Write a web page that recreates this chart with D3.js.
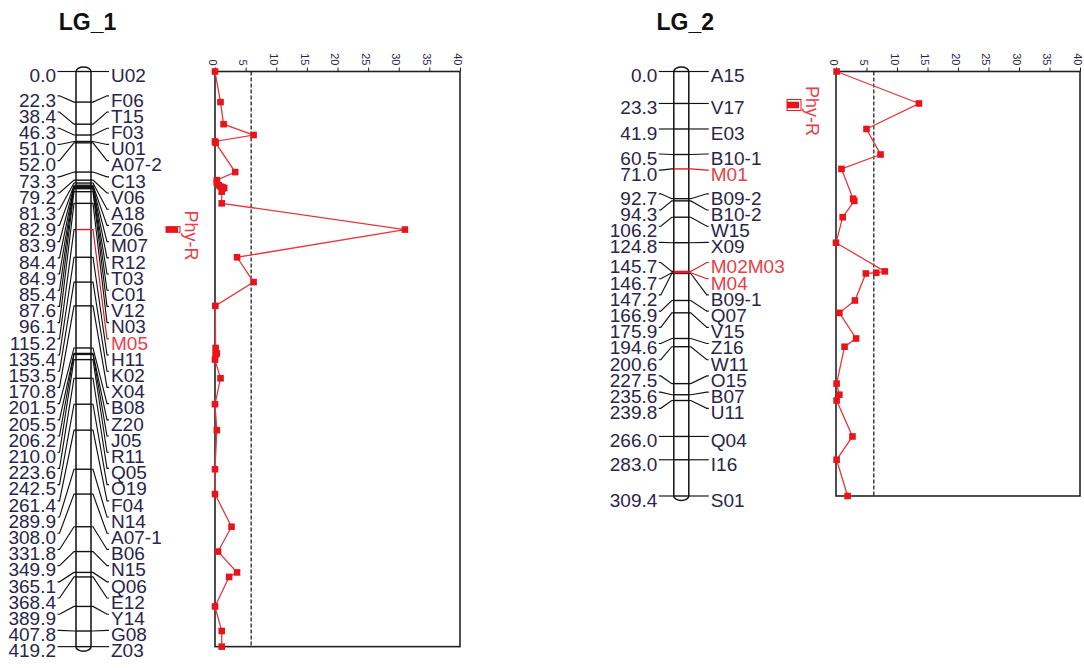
<!DOCTYPE html>
<html>
<head>
<meta charset="utf-8">
<script src="https://cdn.jsdelivr.net/npm/d3@7"></script>
<style>
  html, body { margin: 0; padding: 0; background: #fff; }
  svg { display: block; font-family: "Liberation Sans", Arial, sans-serif; }
</style>
</head>
<body>
<svg id="chart" width="1084" height="668"></svg>
<script>
// ---- Linkage group LG_1: markers, map positions (cM), LOD at each marker ----
const lg1Markers = ["U02","F06","T15","F03","U01","A07-2","C13","V06","A18","Z06","M07","R12",
  "T03","C01","V12","N03","M05","H11","K02","X04","B08","Z20","J05","R11","Q05","O19","F04",
  "N14","A07-1","B06","N15","Q06","E12","Y14","G08","Z03"];
const lg1Positions = [0.0,22.3,38.4,46.3,51.0,52.0,73.3,79.2,81.3,82.9,83.9,84.4,84.9,85.4,87.6,
  96.1,115.2,135.4,153.5,170.8,201.5,205.5,206.2,210.0,223.6,242.5,261.4,289.9,308.0,331.8,
  349.9,365.1,368.4,389.9,407.8,419.2];
const lg1Lod = [0.0,0.9,1.4,6.3,0.0,0.1,3.3,0.3,0.3,0.6,0.9,1.2,1.5,1.2,1.1,1.1,31.0,3.6,6.3,
  0.05,0.1,0.3,0.1,0.0,0.9,0.0,0.3,0.0,0.0,2.7,0.5,3.6,2.3,0.0,1.1,1.1];
const lg1Threshold = 5.9;
const lg1QtlInner = [113.1, 117.2];   // 1-LOD support interval (cM)
const lg1QtlOuter = [113.1, 117.2];   // 2-LOD support interval (cM)

// ---- Linkage group LG_2 ----
const lg2Markers = ["A15","V17","E03","B10-1","M01","B09-2","B10-2","W15","X09","M02M03","M04",
  "B09-1","Q07","V15","Z16","W11","O15","B07","U11","Q04","I16","S01"];
const lg2Positions = [0.0,23.3,41.9,60.5,71.0,92.7,94.3,106.2,124.8,145.7,146.7,147.2,166.9,
  175.9,194.6,200.6,227.5,235.6,239.8,266.0,283.0,309.4];
const lg2Lod = [0.1,13.6,5.0,7.3,0.9,2.8,3.0,1.1,0.0,8.0,6.6,4.9,3.1,0.55,3.3,1.4,0.1,0.55,0.1,
  2.7,0.1,1.9];
const lg2Threshold = 6.2;
const lg2QtlInner = [22.0, 26.8];
const lg2QtlOuter = [20.4, 28.4];

// ---- shared ----
const lodTicks = [0, 5, 10, 15, 20, 25, 30, 35, 40];
const lodMax = 40;
const highlighted = ["M05", "M01", "M02M03", "M04"];
const qtlName = "Phy-R";

// layout
const Y0 = 71.5, PX_PER_CM = 1.372, LABEL_GAP = 16.2, FONT = 19;
const TEXT = "#29254a", RED = "#e8141c", LABEL_RED = "#e8404a";

const groups = [
  { title: "LG_1", markers: lg1Markers, positions: lg1Positions, lod: lg1Lod,
    threshold: lg1Threshold, qtlInner: lg1QtlInner, qtlOuter: lg1QtlOuter,
    barX: 83.5, padL: 20, padR: 20, plotLeft: 215, plotRight: 460 },
  { title: "LG_2", markers: lg2Markers, positions: lg2Positions, lod: lg2Lod,
    threshold: lg2Threshold, qtlInner: lg2QtlInner, qtlOuter: lg2QtlOuter,
    barX: 681.3, padL: 16.5, padR: 22, plotLeft: 836, plotRight: 1080 }
];

// Spread label anchors so they keep a minimum gap: push down, pull back up from the
// lower end, then let free-floating runs drift toward their markers.
function spreadLabels(desired, gap, lo, hi, pull) {
  const n = desired.length, p = desired.slice();
  p[0] = Math.max(p[0], lo);
  for (let i = 1; i < n; i++) p[i] = Math.max(p[i], p[i - 1] + gap);
  p[n - 1] = Math.min(p[n - 1], hi);
  for (let i = n - 2; i >= 0; i--) p[i] = Math.min(p[i], p[i + 1] - gap);
  let a = 0;
  while (a < n) {
    let b = a;
    while (b + 1 < n && p[b + 1] - p[b] < gap + 0.01) b++;
    if (b > a && p[b] < hi - 0.5) {
      let mean = 0;
      for (let i = a; i <= b; i++) mean += p[i] - desired[i];
      mean /= (b - a + 1);
      let shift = pull * mean;
      const minTop = a > 0 ? p[a - 1] + gap : lo;
      shift = Math.min(shift, p[a] - minTop);
      if (shift > 0) for (let i = a; i <= b; i++) p[i] -= shift;
    }
    a = b + 1;
  }
  return p;
}

const svg = d3.select("#chart");

groups.forEach(g => {
  const len = g.positions[g.positions.length - 1];
  const y = d3.scaleLinear().domain([0, len]).range([Y0, Y0 + len * PX_PER_CM]);
  const x = d3.scaleLinear().domain([0, lodMax]).range([g.plotLeft, g.plotRight]);
  const barL = g.barX - 7.5, barR = g.barX + 7.5;
  const markerY = g.positions.map(d => y(d));
  const labelY = spreadLabels(markerY, LABEL_GAP, y(0), y(len), 0.6);
  const isRed = g.markers.map(m => highlighted.includes(m));
  const leftEnd = barL - g.padL + 1.5, rightStart = barR + g.padR - 2;

  const root = svg.append("g");

  // title
  root.append("text")
    .attr("x", g.barX + 4).attr("y", 30)
    .attr("text-anchor", "middle")
    .attr("font-size", 23).attr("font-weight", "bold").attr("fill", "#111")
    .text(g.title);

  // chromosome bar with rounded ends
  const y0 = y(0), yL = y(len);
  root.append("path")
    .attr("d", `M${barL},${y0} A7.5,4.5 0 0 1 ${barR},${y0} L${barR},${yL} A7.5,4.5 0 0 1 ${barL},${yL} Z`)
    .attr("fill", "#fff").attr("stroke", "#111").attr("stroke-width", 1.5);

  const line = d3.line();
  const order = d3.range(g.markers.length).sort((a, b) => isRed[a] - isRed[b]);

  order.forEach(i => {
    const my = markerY[i], ly = labelY[i];
    const col = isRed[i] ? RED : "#111";
    // left connector (position side) is always black
    root.append("path")
      .attr("d", line([[leftEnd, ly], [leftEnd + 2, ly], [barL - 2, my], [barL, my]]))
      .attr("fill", "none").attr("stroke", "#111").attr("stroke-width", 1.15);
    // line across the bar
    root.append("path")
      .attr("d", line([[barL, my], [barR, my]]))
      .attr("stroke", col).attr("stroke-width", 1.4);
    // right connector (name side)
    root.append("path")
      .attr("d", line([[barR, my], [barR + 2, my], [rightStart - 2, ly], [rightStart, ly]]))
      .attr("fill", "none").attr("stroke", col).attr("stroke-width", 1.15);
  });

  // position labels
  root.append("g").selectAll("text")
    .data(g.positions)
    .join("text")
    .attr("x", barL - g.padL)
    .attr("y", (d, i) => labelY[i] + 10.8)
    .attr("text-anchor", "end")
    .attr("font-size", FONT).attr("fill", TEXT)
    .text(d => d.toFixed(1));

  // marker name labels
  root.append("g").selectAll("text")
    .data(g.markers)
    .join("text")
    .attr("x", barR + g.padR)
    .attr("y", (d, i) => labelY[i] + 10.8)
    .attr("font-size", FONT)
    .attr("fill", (d, i) => isRed[i] ? LABEL_RED : TEXT)
    .text(d => d);

  // QTL support interval and name
  const qx = g.plotLeft - 49;
  root.append("rect")
    .attr("x", qx).attr("y", y(g.qtlOuter[0]))
    .attr("width", 14).attr("height", y(g.qtlOuter[1]) - y(g.qtlOuter[0]))
    .attr("fill", "none").attr("stroke", RED).attr("stroke-width", 1);
  root.append("rect")
    .attr("x", qx).attr("y", y(g.qtlInner[0]))
    .attr("width", 12).attr("height", y(g.qtlInner[1]) - y(g.qtlInner[0]))
    .attr("fill", RED);
  const peakY = y((g.qtlInner[0] + g.qtlInner[1]) / 2);
  root.append("text")
    .attr("transform", `translate(${g.plotLeft - 30},${peakY - 19}) rotate(90)`)
    .attr("font-size", 18).attr("fill", LABEL_RED)
    .text(qtlName);

  // LOD profile frame
  root.append("rect")
    .attr("x", x(0)).attr("y", y0)
    .attr("width", x(lodMax) - x(0)).attr("height", yL - y0)
    .attr("fill", "none").attr("stroke", "#222").attr("stroke-width", 1.6);

  // LOD axis along the top
  const axis = root.append("g")
    .attr("transform", `translate(0,${y0})`)
    .call(d3.axisTop(x).tickValues(lodTicks).tickSize(4).tickFormat(d3.format("d")));
  axis.select(".domain").remove();
  axis.selectAll(".tick line").attr("stroke", "#222");
  axis.selectAll(".tick text")
    .attr("x", 0).attr("y", 0).attr("dy", "0.35em")
    .attr("transform", "translate(-3,-6) rotate(90)")
    .attr("text-anchor", "end")
    .attr("font-size", 11)
    .attr("font-family", "\"Liberation Sans\", Arial, sans-serif")
    .attr("fill", TEXT);

  // significance threshold
  root.append("line")
    .attr("x1", x(g.threshold)).attr("x2", x(g.threshold))
    .attr("y1", y0).attr("y2", yL)
    .attr("stroke", "#111").attr("stroke-width", 1.2).attr("stroke-dasharray", "4,2");

  // LOD profile
  const pts = g.positions.map((p, i) => [x(g.lod[i]), y(p)]);
  root.append("path")
    .attr("d", d3.line()(pts))
    .attr("fill", "none").attr("stroke", "#e8363c").attr("stroke-width", 1.3);
  root.append("g").selectAll("rect")
    .data(pts)
    .join("rect")
    .attr("x", d => d[0] - 3.3).attr("y", d => d[1] - 3.3)
    .attr("width", 6.6).attr("height", 6.6)
    .attr("fill", RED);
});
</script>
</body>
</html>
